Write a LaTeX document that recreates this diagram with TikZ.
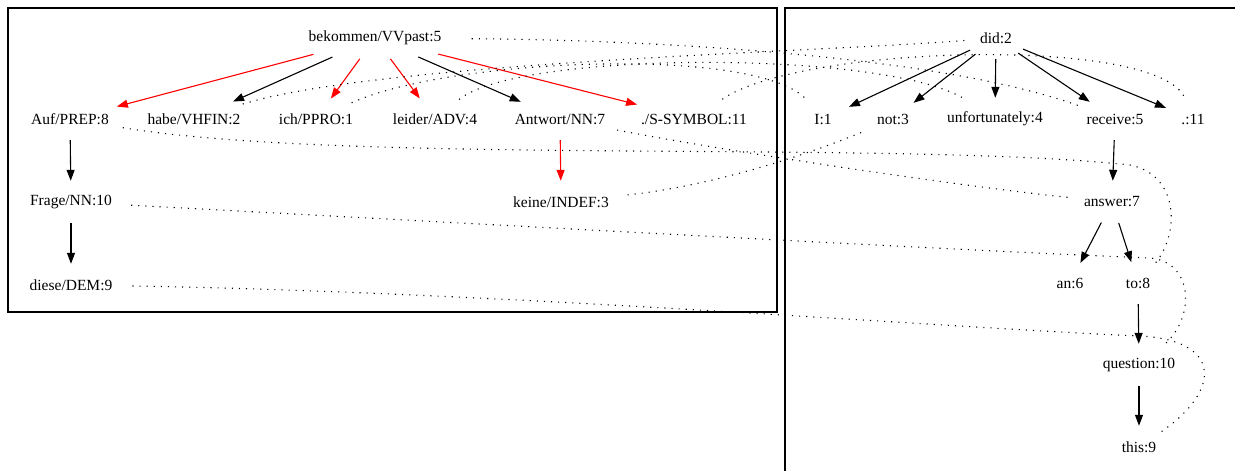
\documentclass[tikz,border=0pt]{standalone}
\usepackage{fontspec}
\setmainfont{Liberation Serif}
\usetikzlibrary{shapes.geometric,arrows.meta}
\begin{document}
\begin{tikzpicture}[x=1pt,y=-1pt,
  w/.style={ellipse,inner xsep=2pt,inner ysep=0pt,minimum height=42pt,minimum width=63pt,font=\fontsize{15.5}{18}\selectfont},
  dep/.style={-{Triangle[length=11pt,width=8pt]},line width=1.1pt},
  rdep/.style={dep,red},
  al/.style={line width=1.1pt,dash pattern=on 1.1pt off 6pt},
  frame/.style={line width=1.1pt}]
\useasboundingbox (0,0) rectangle (1235,471);
\clip (0,0) rectangle (1235,471);
\fill[white] (0,0) rectangle (1235,471);
\draw[frame] (8,8) rectangle (777,312);
\draw[frame] (785,8) rectangle (1260,495);
% German tree
\node[w] (bek) at (375,38) {bekommen/VVpast:5};
\node[w] (auf) at (70,119) {Auf/PREP:8};
\node[w] (habe) at (194,119) {habe/VHFIN:2};
\node[w] (ich) at (316,119) {ich/PPRO:1};
\node[w] (leider) at (435,119) {leider/ADV:4};
\node[w] (antw) at (560,119) {Antwort/NN:7};
\node[w] (sym) at (694,119) {./S-SYMBOL:11};
\node[w] (frage) at (71,202) {Frage/NN:10};
\node[w] (keine) at (561,202) {keine/INDEF:3};
\node[w] (diese) at (71,285) {diese/DEM:9};
% English tree
\node[w] (did) at (996,38) {did:2};
\node[w] (I) at (823,119) {I:1};
\node[w] (not) at (893,119) {not:3};
\node[w] (unf) at (995,119) {unfortunately:4};
\node[w] (rec) at (1115,119) {receive:5};
\node[w] (dot) at (1193,119) {.:11};
\node[w] (ans) at (1112,202) {answer:7};
\node[w] (an) at (1070,283) {an:6};
\node[w] (to) at (1138,283) {to:8};
\node[w] (q) at (1139,365) {question:10};
\node[w] (this) at (1139,447) {this:9};
% German dependencies
\draw[rdep] (bek) -- (auf);
\draw[dep] (bek) -- (habe);
\draw[rdep] (bek) -- (ich);
\draw[rdep] (bek) -- (leider);
\draw[dep] (bek) -- (antw);
\draw[rdep] (bek) -- (sym);
\draw[rdep] (antw) -- (keine);
\draw[dep] (auf) -- (frage);
\draw[dep] (frage) -- (diese);
% English dependencies
\draw[dep] (did) -- (I);
\draw[dep] (did) -- (not);
\draw[dep] (did) -- (unf);
\draw[dep] (did) -- (rec);
\draw[dep] (did) -- (dot);
\draw[dep] (rec) -- (ans);
\draw[dep] (ans) -- (an);
\draw[dep] (ans) -- (to);
\draw[dep] (to) -- (q);
\draw[dep] (q) -- (this);
% alignments
\draw[al] (habe) .. controls (380,62) and (820,52) .. (did);
\draw[al] (ich) .. controls (450,58) and (760,45) .. (I);
\draw[al] (leider) .. controls (520,50) and (890,50) .. (unf);
\draw[al] (bek) .. controls (650,40) and (940,55) .. (rec);
\draw[al] (sym) .. controls (800,45) and (1160,35) .. (dot);
\draw[al] (antw) .. controls (720,150) and (950,185) .. (ans);
\draw[al] (keine) .. controls (720,185) and (820,150) .. (not);
\draw[al] (auf) .. controls (350,165) and (900,140) .. (1130,165) .. controls (1180,175) and (1180,235) .. (to);
\draw[al] (frage) .. controls (500,225) and (950,250) .. (1150,258) .. controls (1195,262) and (1195,320) .. (q);
\draw[al] (diese) .. controls (500,292) and (950,328) .. (1140,336) .. controls (1222,340) and (1222,390) .. (this);
\end{tikzpicture}
\end{document}
